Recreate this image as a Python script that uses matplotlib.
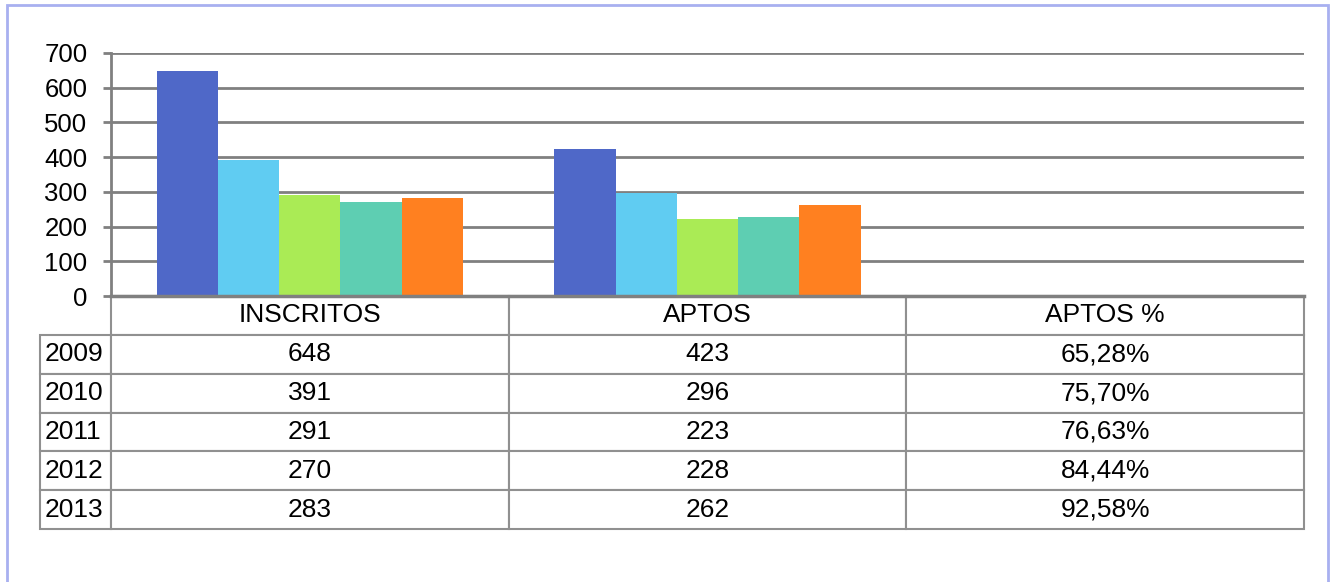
import numpy as np
import matplotlib
matplotlib.use('Agg')
import matplotlib.pyplot as plt
from matplotlib.patches import Rectangle

plt.rcParams['font.family'] = ['Liberation Sans', 'DejaVu Sans']

# Data
categories = ['INSCRITOS', 'APTOS', 'APTOS %']
years = ['2009', '2010', '2011', '2012', '2013']
inscritos = [648, 391, 291, 270, 283]
aptos = [423, 296, 223, 228, 262]
aptos_pct = [65.28, 75.70, 76.63, 84.44, 92.58]
colors = ['#4F68C8', '#60CCF2', '#AAEB55', '#5ECEB2', '#FF8020']

W, H = 1332, 582
fig = plt.figure(figsize=(W / 100, H / 100), dpi=100)

# Axes placed in pixel coords of the reference
left, right, top, bottom = 111, 1304, 53, 296
ax = fig.add_axes([left / W, 1 - bottom / H, (right - left) / W, (bottom - top) / H])

x = np.arange(len(categories))
bar_w = 0.154
for i, yr in enumerate(years):
    vals = [inscritos[i], aptos[i], aptos_pct[i] / 100]
    ax.bar(x - 2 * bar_w + i * bar_w, vals, width=bar_w, color=colors[i],
           edgecolor='none', zorder=2)

ax.set_xlim(-0.5, len(categories) - 0.5)
ax.set_ylim(0, 700)
ax.set_yticks(range(0, 701, 100))
ax.set_xticks([])
ax.yaxis.grid(True, color='#808080', linewidth=2, zorder=0)
ax.set_axisbelow(True)
for s in ['top', 'right']:
    ax.spines[s].set_visible(False)
ax.spines['left'].set_color('#808080')
ax.spines['left'].set_linewidth(2)
ax.spines['bottom'].set_color('#808080')
ax.spines['bottom'].set_linewidth(2.5)
ax.spines['bottom'].set_zorder(3)
ax.tick_params(axis='y', length=6, width=2, color='#808080', pad=11, labelsize=18.5)

# Data table below the plot (first column holds the year labels)
cell_text = []
for i in range(len(years)):
    cell_text.append([years[i], str(inscritos[i]), str(aptos[i]),
                      f'{aptos_pct[i]:.2f}'.replace('.', ',') + '%'])

ax_w = right - left
ax_h = bottom - top
tbl_left, tbl_bottom = 40, 529
tbl = ax.table(cellText=cell_text, colLabels=[''] + categories,
               colWidths=[71 / ax_w] + [398 / ax_w] * 3,
               cellLoc='center', colLoc='center',
               bbox=[(tbl_left - left) / ax_w, -(tbl_bottom - bottom) / ax_h,
                     (right - tbl_left) / ax_w, (tbl_bottom - bottom) / ax_h])
tbl.auto_set_font_size(False)
tbl.set_fontsize(19)
for (r, c), cell in tbl.get_celld().items():
    cell.set_edgecolor('#909090')
    cell.set_linewidth(1.5)
    if c == 0:
        cell.get_text().set_ha('left')
        cell.PAD = 0.06
        if r == 0:
            cell.set_visible(False)

# Outer chart border
fig.patches.append(Rectangle((7 / W, -0.01), (1328 - 7) / W, 1 - 5 / H + 0.01,
                             transform=fig.transFigure, fill=False,
                             edgecolor='#A8B0F0', linewidth=2))

fig.savefig('out.png', dpi=100)
